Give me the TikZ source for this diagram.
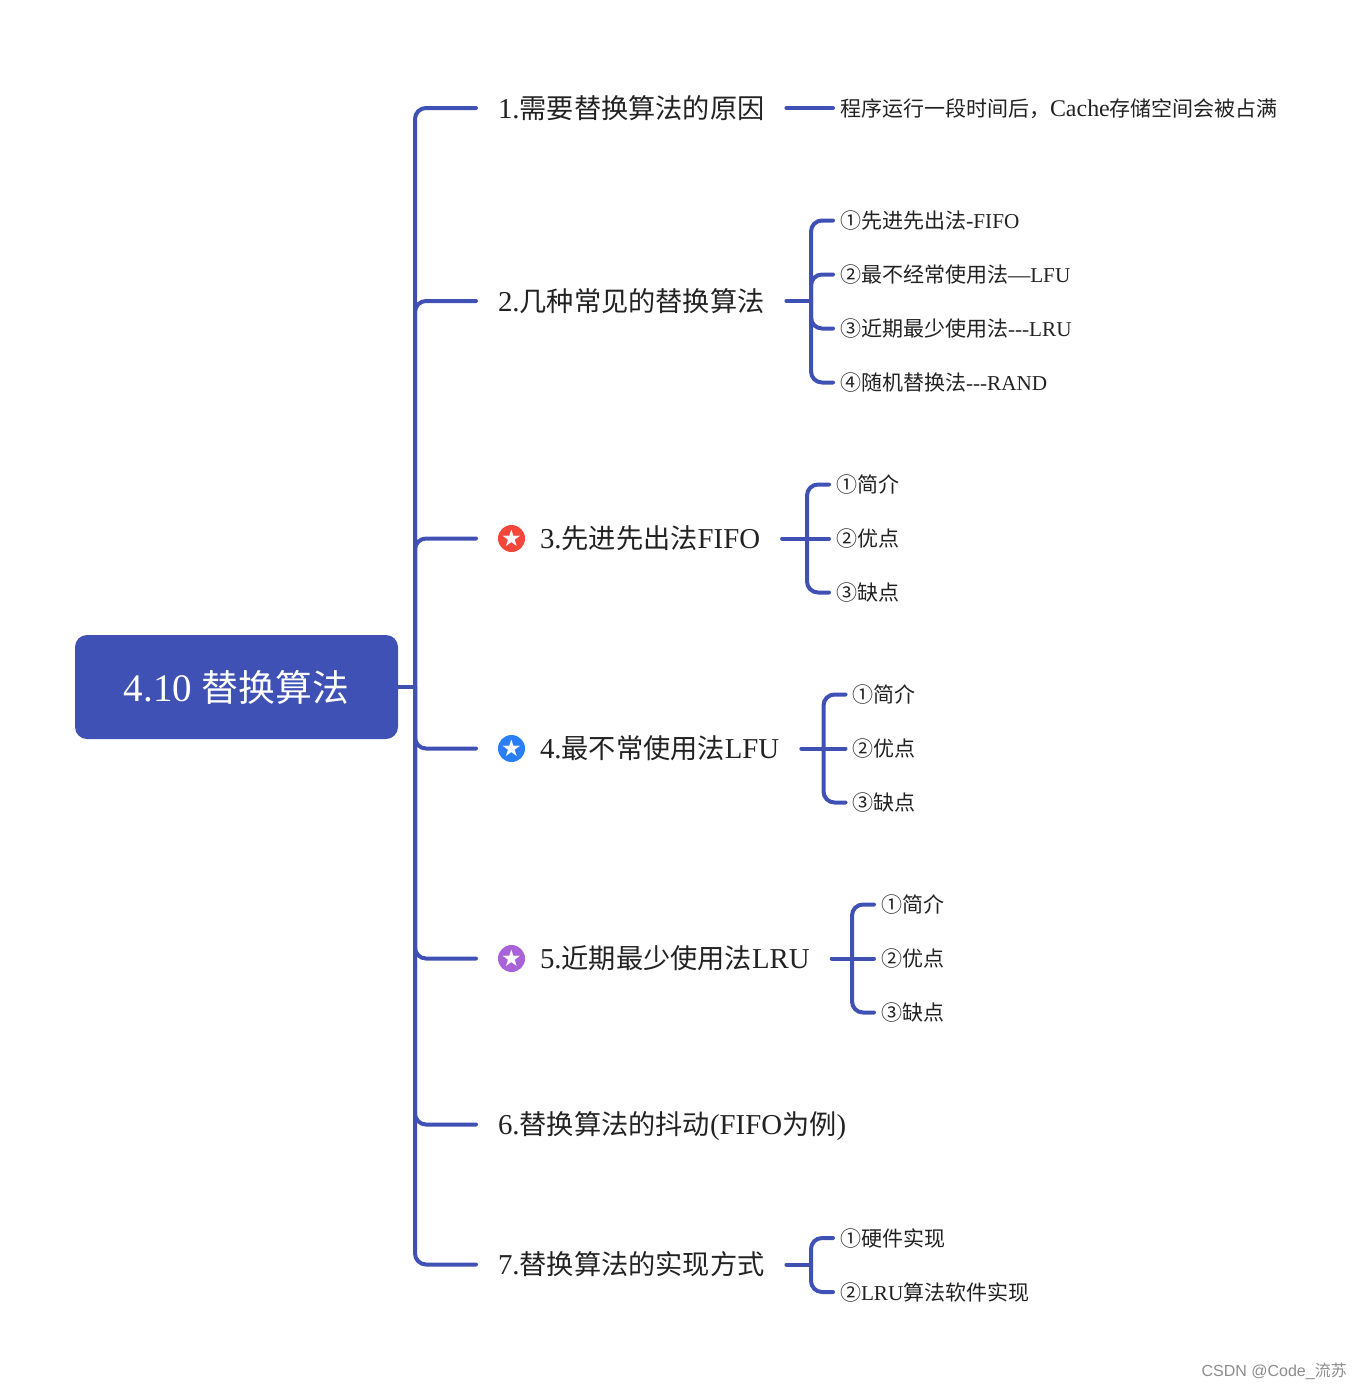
\documentclass[tikz,border=0pt]{standalone}
\usepackage{fontspec}
\usepackage{xcolor}
\usepackage{tikz}
\usetikzlibrary{positioning}
\setmainfont{Liberation Serif}[Scale=1.06]
\newfontfamily\cjk{Noto Sans CJK SC}
\newfontfamily\wmark{Liberation Sans}
\newfontfamily\starfont{DejaVu Sans}
\newcommand{\zh}[1]{{\cjk #1}}
\newcommand{\lat}[1]{{\fontsize{20}{24}\selectfont #1}}
\definecolor{mapblue}{HTML}{4051B5}
\definecolor{inkgray}{HTML}{222222}
\definecolor{starred}{HTML}{F4473C}
\definecolor{starblue}{HTML}{2B7FF6}
\definecolor{starpurple}{HTML}{A963D8}
\tikzset{
    branch/.style={draw=mapblue, line width=4pt, line cap=round, rounded corners=11pt},
    topic/.style={anchor=west, inner xsep=0pt, outer xsep=22pt, text height=23pt, text depth=3pt, text=inkgray, font=\fontsize{27.2}{30}\selectfont},
    leaf/.style={anchor=west, inner xsep=0pt, outer xsep=7pt, text height=18pt, text depth=2pt, text=inkgray, font=\fontsize{21}{24}\selectfont},
    icon/.style={circle, inner sep=0pt, minimum size=27pt, outer sep=22pt, text=white, font=\starfont\fontsize{23}{23}\selectfont}
}

\begin{document}
\begin{tikzpicture}[x=1pt, y=-1pt]
        \useasboundingbox (0,0) rectangle (1362,1389);

        % Root
        \node (root) [rectangle, rounded corners=12pt, minimum width=323pt, minimum height=104pt, fill=mapblue, text=white, font=\fontsize{36.8}{40}\selectfont] at (236.5,687) {4.10 \zh{替换算法}};
        \coordinate (hub) at (415,687);

        % Topics
        \node (topica) [topic] at (476,108) {1.\zh{需要替换算法的原因}};
        \node (topicb) [topic] at (476,301) {2.\zh{几种常见的替换算法}};
        \node (iconc) [icon, fill=starred] at (511.5,538.5) {★};
        \node (topicc) [topic] at (518,538.5) {3.\zh{先进先出法}FIFO};
        \node (icond) [icon, fill=starblue] at (511.5,748.5) {★};
        \node (topicd) [topic] at (518,748.5) {4.\zh{最不常使用法}LFU};
        \node (icone) [icon, fill=starpurple] at (511.5,958.5) {★};
        \node (topice) [topic] at (518,958.5) {5.\zh{近期最少使用法}LRU};
        \node (topicf) [topic] at (476,1124.5) {6.\zh{替换算法的抖动}(FIFO\zh{为例})};
        \node (topicg) [topic] at (476,1264.5) {7.\zh{替换算法的实现方式}};

        % Trunk
        \draw[branch] (root.east) -- (hub);
        \draw[branch] (topica.west) -| (hub);
        \draw[branch] (topicb.west) -| (hub);
        \draw[branch] (iconc.west) -| (hub);
        \draw[branch] (icond.west) -| (hub);
        \draw[branch] (icone.west) -| (hub);
        \draw[branch] (topicf.west) -| (hub);
        \draw[branch] (topicg.west) -| (hub);

        % Topic 1
        \node (reason) [leaf] at (833,108) {\zh{程序运行一段时间后，}{\fontsize{22.6}{24}\selectfont Cache}\zh{存储空间会被占满}};
        \draw[branch] (topica.east) -- (reason.west);

        % Topic 2
        \node (fifo) [leaf] at (833,220.5) {\zh{①先进先出法}-\lat{FIFO}};
        \node (lfu) [leaf] at (833,274.5) {\zh{②最不经常使用法}—\lat{LFU}};
        \node (lru) [leaf] at (833,328.5) {\zh{③近期最少使用法}\lat{-{}-{}-LRU}};
        \node (rand) [leaf] at (833,382.5) {\zh{④随机替换法}\lat{-{}-{}-RAND}};
        \coordinate (hubb) at (811,301);
        \draw[branch] (topicb.east) -- (hubb);
        \draw[branch] (fifo.west) -| (hubb);
        \draw[branch] (lfu.west) -| (hubb);
        \draw[branch] (lru.west) -| (hubb);
        \draw[branch] (rand.west) -| (hubb);

        % Topic 3
        \node (introc) [leaf] at (829,484.5) {\zh{①简介}};
        \node (prosc) [leaf] at (829,538.5) {\zh{②优点}};
        \node (consc) [leaf] at (829,592.5) {\zh{③缺点}};
        \coordinate (hubc) at (807,538.5);
        \draw[branch] (topicc.east) -- (prosc.west);
        \draw[branch] (introc.west) -| (hubc);
        \draw[branch] (consc.west) -| (hubc);

        % Topic 4
        \node (introd) [leaf] at (845.5,694.5) {\zh{①简介}};
        \node (prosd) [leaf] at (845.5,748.5) {\zh{②优点}};
        \node (consd) [leaf] at (845.5,802.5) {\zh{③缺点}};
        \coordinate (hubd) at (823.5,748.5);
        \draw[branch] (topicd.east) -- (prosd.west);
        \draw[branch] (introd.west) -| (hubd);
        \draw[branch] (consd.west) -| (hubd);

        % Topic 5
        \node (introe) [leaf] at (874,904.5) {\zh{①简介}};
        \node (prose) [leaf] at (874,958.5) {\zh{②优点}};
        \node (conse) [leaf] at (874,1012.5) {\zh{③缺点}};
        \coordinate (hube) at (852,958.5);
        \draw[branch] (topice.east) -- (prose.west);
        \draw[branch] (introe.west) -| (hube);
        \draw[branch] (conse.west) -| (hube);

        % Topic 7
        \node (hard) [leaf] at (833,1238) {\zh{①硬件实现}};
        \node (soft) [leaf] at (833,1292) {\zh{②}\lat{LRU}\zh{算法软件实现}};
        \coordinate (hubg) at (811,1264.5);
        \draw[branch] (topicg.east) -- (hubg);
        \draw[branch] (hard.west) -| (hubg);
        \draw[branch] (soft.west) -| (hubg);

        % Watermark
        \node (wmark) [anchor=east, inner sep=0pt, text=black!45, font=\wmark\fontsize{16}{18}\selectfont] at (1347,1371) {CSDN @Code\_\zh{流苏}};
    \end{tikzpicture}
\end{document}
